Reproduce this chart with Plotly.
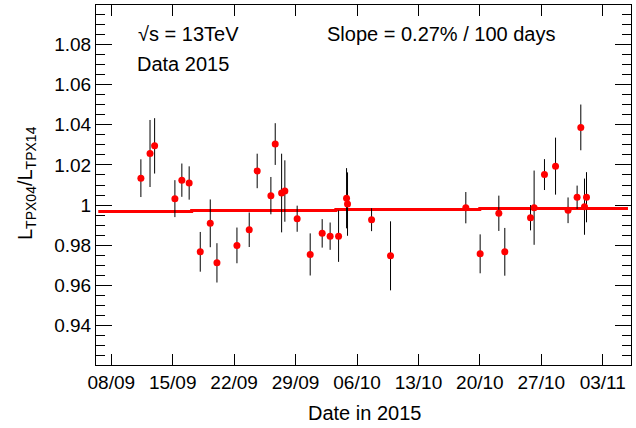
import plotly.graph_objects as go

# ---- data ----
dates = [
    "2015-09-11 09:00", "2015-09-12 10:00", "2015-09-12 22:30", "2015-09-15 06:00",
    "2015-09-16 01:00", "2015-09-16 21:00", "2015-09-18 03:20", "2015-09-19 06:40",
    "2015-09-20 01:00", "2015-09-22 07:40", "2015-09-23 17:15", "2015-09-24 15:00",
    "2015-09-26 04:30", "2015-09-26 16:20", "2015-09-27 09:50", "2015-09-27 18:40",
    "2015-09-29 04:20", "2015-09-30 16:00", "2015-10-02 00:45", "2015-10-02 22:30",
    "2015-10-03 21:35", "2015-10-04 19:25", "2015-10-04 22:05", "2015-10-07 15:50",
    "2015-10-09 19:40", "2015-10-18 09:35", "2015-10-20 00:45", "2015-10-22 03:50",
    "2015-10-22 20:10", "2015-10-25 18:30", "2015-10-26 04:20", "2015-10-27 08:40",
    "2015-10-28 14:55", "2015-10-30 01:10", "2015-10-31 01:55", "2015-10-31 12:00",
    "2015-10-31 22:05", "2015-11-01 03:35",
]
ratio = [
    1.0134, 1.0257, 1.0295, 1.0032, 1.0124, 1.0110, 0.9767, 0.9909,
    0.9712, 0.9799, 0.9877, 1.0170, 1.0047, 1.0304, 1.0060, 1.0070,
    0.9932, 0.9754, 0.9859, 0.9845, 0.9845, 1.0034, 1.0005, 0.9927,
    0.9747, 0.9987, 0.9757, 0.9959, 0.9767, 0.9937, 0.9987, 1.0152,
    1.0194, 0.9974, 1.0039, 1.0387, 0.9992, 1.0039,
]
ratio_err = [
    0.0094, 0.0167, 0.0138, 0.0092, 0.0083, 0.0083, 0.0099, 0.0119,
    0.0098, 0.0089, 0.0086, 0.0086, 0.0093, 0.0104, 0.0196, 0.0153,
    0.0065, 0.0105, 0.0071, 0.0068, 0.0128, 0.0150, 0.0158, 0.0057,
    0.0172, 0.0078, 0.0097, 0.0088, 0.0119, 0.0063, 0.0185, 0.0077,
    0.0142, 0.0064, 0.0058, 0.0114, 0.0140, 0.0125,
]
fit_dates = ["2015-09-06 12:30", "2015-09-17 03:50", "2015-10-03 14:10",
             "2015-10-19 23:45", "2015-11-05 21:00"]
fit_vals = [0.99685, 0.99735, 0.99785, 0.99835, 0.99835]

y_tickvals = [0.94, 0.96, 0.98, 1.00, 1.02, 1.04, 1.06, 1.08]
y_ticktext = ["0.94", "0.96", "0.98", "1", "1.02", "1.04", "1.06", "1.08"]

FONT = "Liberation Sans, Arial, Helvetica, sans-serif"

fig = go.Figure()
fig.add_trace(go.Scatter(
    x=fit_dates, y=fit_vals, mode="lines", line_shape="hv",
    line=dict(color="#ff0000", width=3), hoverinfo="skip", showlegend=False,
))
fig.add_trace(go.Scatter(
    x=dates, y=ratio, mode="markers",
    marker=dict(color="#ff0000", size=7, line=dict(width=0)),
    error_y=dict(type="data", array=ratio_err, color="black", thickness=1, width=0),
    showlegend=False,
))

W, H = 636, 428
ml, mr, mt, mb = 96, 5, 5, 63
pw, ph = W - ml - mr, H - mt - mb

def px(x):
    return (x - ml) / pw

def py(y):
    return (H - mb - y) / ph

fig.update_layout(
    width=W, height=H,
    margin=dict(l=ml, r=mr, t=mt, b=mb, pad=0),
    paper_bgcolor="white", plot_bgcolor="white",
    font=dict(family=FONT, size=19, color="black"),
    xaxis=dict(
        type="date",
        range=["2015-09-06 06:14", "2015-11-06 05:17"],
        tick0="2015-09-08", dtick=7 * 86400000, tickformat="%d/%m",
        ticks="inside", ticklen=11, tickwidth=1, tickcolor="black",
        showline=True, linecolor="black", linewidth=1, mirror="allticks",
        showgrid=False, zeroline=False,
        tickfont=dict(family=FONT, size=19, color="black"),
    ),
    yaxis=dict(
        range=[0.9203, 1.0997],
        tickvals=y_tickvals, ticktext=y_ticktext,
        ticks="inside", ticklen=16, tickwidth=1, tickcolor="black",
        minor=dict(dtick=0.005, tick0=0.92, ticks="inside", ticklen=9,
                   tickwidth=1, tickcolor="black", showgrid=False),
        showline=True, linecolor="black", linewidth=1, mirror="allticks",
        showgrid=False, zeroline=False,
        tickfont=dict(family=FONT, size=19, color="black"),
    ),
)

annos = [
    dict(text="√s = 13TeV", x=px(136), y=py(34), xanchor="left", yanchor="middle"),
    dict(text="Data 2015", x=px(135), y=py(64), xanchor="left", yanchor="middle"),
    dict(text="Slope = 0.27% / 100 days", x=px(325), y=py(34), xanchor="left", yanchor="middle"),
    dict(text="Date in 2015", x=px(364), y=py(413), xanchor="center", yanchor="middle"),
    dict(text="L<sub>TPX04</sub>/L<sub>TPX14</sub>", x=px(26), y=py(183),
         xanchor="center", yanchor="middle", textangle=-90),
]
for a in annos:
    fig.add_annotation(xref="paper", yref="paper", showarrow=False,
                       font=dict(family=FONT, size=20, color="black"), **a)

fig.write_html("out.html")
